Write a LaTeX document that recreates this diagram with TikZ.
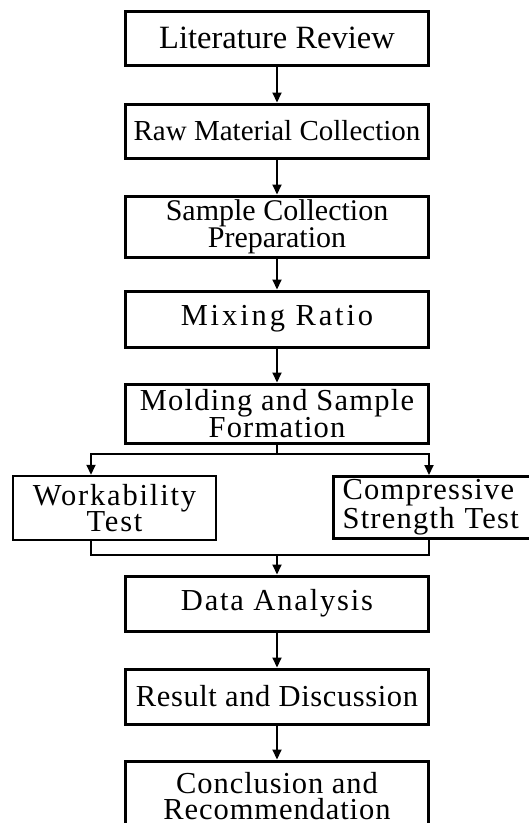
\documentclass[tikz,border=0pt]{standalone}
\usepackage{fontspec}
\setmainfont{Liberation Serif}
\usetikzlibrary{arrows.meta}
% font size and letter spacing for the box labels
\newcommand\boxfont[2]{\fontsize{#1}{26.8}\selectfont\addfontfeature{LetterSpace=#2}}
\begin{document}
\begin{tikzpicture}[x=1pt,y=-1pt,
  stepbox/.style={draw, line width=3pt, inner sep=0pt, align=center, minimum width=303.5pt},
  sidebox/.style={draw, line width=2.5pt, inner ysep=0pt},
  link/.style={line width=2pt},
  flow/.style={link, -{Triangle[width=9pt,length=10pt]}}]
\useasboundingbox (0,0) rectangle (529,823);
\clip (0,0) rectangle (529,823);

% main column
\node[stepbox, minimum height=54pt, font=\boxfont{32.5}{0}] (lit) at (277,38) {Literature Review};
\node[stepbox, minimum height=54pt, font=\boxfont{29}{0}] (raw) at (277,131) {Raw Material Collection};
\node[stepbox, minimum height=61pt, font=\boxfont{30}{0}] (prep) at (277,226.5) {Sample Collection\\Preparation};
\node[stepbox, minimum height=56pt, font=\boxfont{30.5}{9.5}] (mix) at (277,319) {Mixing Ratio};
\node[stepbox, minimum height=59pt, font=\boxfont{30.5}{4}] (mold) at (277,413.5) {Molding and Sample\\Formation};

% the two tests
\node[sidebox, inner xsep=0pt, align=center, minimum width=203pt, minimum height=64pt, font=\boxfont{30.5}{6}] (work) at (114.5,508) {Workability\\Test};
\node[sidebox, inner xsep=9.4pt, text width=194pt, align=left, minimum height=62pt, anchor=north west, font=\boxfont{30.5}{4}] (comp) at (332,475) {Compressive\\Strength Test};

% lower column
\node[stepbox, minimum height=55pt, font=\boxfont{30.5}{6}] (data) at (277,603.5) {Data Analysis};
\node[stepbox, minimum height=55pt, font=\boxfont{30.5}{2}] (res) at (277,696.5) {Result and Discussion};
\node[stepbox, minimum height=70pt, font=\boxfont{30.5}{3}] (conc) at (277,796) {Conclusion and\\Recommendation};

% straight links
\draw[flow] (lit) -- (raw);
\draw[flow] (raw) -- (prep);
\draw[flow] (prep) -- (mix);
\draw[flow] (mix) -- (mold);

% split into the two tests
\coordinate (split) at (277,454);
\coordinate (splitL) at (91,454);
\coordinate (splitR) at (429,454);
\draw[link] (mold.south) -- (split);
\draw[flow] (split) -| (splitL |- work.north);
\draw[flow] (split) -| (splitR |- comp.north);

% merge back
\coordinate (join) at (277,555);
\draw[link] (splitL |- work.south) |- (join);
\draw[link] (splitR |- comp.south) |- (join);
\draw[flow] (join) -- (data);

\draw[flow] (data) -- (res);
\draw[flow] (res) -- (conc);
\end{tikzpicture}
\end{document}
